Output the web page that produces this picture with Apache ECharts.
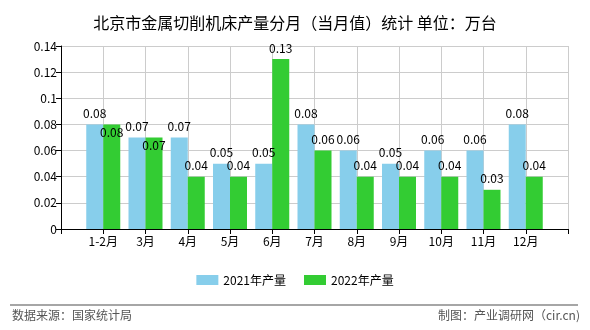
<!DOCTYPE html>
<html>
<head>
<meta charset="utf-8">
<script src="https://cdn.jsdelivr.net/npm/echarts@6/dist/echarts.min.js"></script>
<style>html,body{margin:0;padding:0;background:#fff;}#c{width:590px;height:330px;}</style>
</head>
<body>
<div id="c"></div>
<script>
var categories = ['1-2月','3月','4月','5月','6月','7月','8月','9月','10月','11月','12月'];
var values2021 = [0.08,0.07,0.07,0.05,0.05,0.08,0.06,0.05,0.06,0.06,0.08];
var values2022 = [0.08,0.07,0.04,0.04,0.13,0.06,0.04,0.04,0.04,0.03,0.04];
var yTicks = [0,0.02,0.04,0.06,0.08,0.1,0.12,0.14];
var seriesNames = ['2021年产量','2022年产量'];
var insideLabel2022 = ['1-2月','3月'];

var font = 'Noto Sans CJK SC';
var cats = [''].concat(categories).concat(['']);
function pad(arr, isInside) {
  var out = [null];
  arr.forEach(function (v, i) {
    if (isInside && insideLabel2022.indexOf(categories[i]) >= 0) {
      out.push({value: v, label: {position: 'insideTop', distance: 2}});
    } else out.push(v);
  });
  out.push(null);
  return out;
}
var chart = echarts.init(document.getElementById('c'), null, {renderer: 'canvas'});
chart.setOption({
  animation: false,
  backgroundColor: '#fff',
  textStyle: {fontFamily: font},
  title: {
    text: '北京市金属切削机床产量分月（当月值）统计 单位：万台',
    left: 'center', top: 10,
    textStyle: {fontSize: 16, fontWeight: 'normal', color: '#000', fontFamily: font}
  },
  grid: {left: 61, right: 22, top: 46, bottom: 101, containLabel: false},
  legend: {
    data: seriesNames, top: 269, left: 'center', icon: 'rect',
    itemWidth: 22, itemHeight: 10, itemGap: 18,
    textStyle: {fontSize: 12, color: '#000', fontFamily: font}
  },
  xAxis: {
    type: 'category', data: cats, boundaryGap: false,
    axisLine: {lineStyle: {color: '#000'}},
    axisTick: {show: true, length: 5, lineStyle: {color: '#000'}},
    axisLabel: {color: '#000', fontSize: 12, margin: 6, interval: 0},
    splitLine: {show: true, lineStyle: {color: '#ccc'}}
  },
  yAxis: {
    type: 'value', min: 0, max: 0.14, interval: 0.02,
    axisLine: {show: true, lineStyle: {color: '#000'}},
    axisTick: {show: true, length: 5, lineStyle: {color: '#000'}},
    axisLabel: {color: '#000', fontSize: 12, margin: 4,
      formatter: function (v) { var t = yTicks.filter(function (x) { return Math.abs(x - v) < 1e-9; }); return t.length ? String(t[0]) : ''; }},
    splitLine: {show: true, lineStyle: {color: '#ccc'}}
  },
  series: [
    {name: seriesNames[0], type: 'bar', data: pad(values2021, false), barWidth: 17, barGap: '0%',
      itemStyle: {color: '#87CEEB'},
      label: {show: true, position: 'top', distance: 5, color: '#000', fontSize: 12, fontFamily: font}},
    {name: seriesNames[1], type: 'bar', data: pad(values2022, true), barWidth: 17, barGap: '0%',
      itemStyle: {color: '#33CC33'},
      label: {show: true, position: 'top', distance: 5, color: '#000', fontSize: 12, fontFamily: font}}
  ],
  graphic: [
    {type: 'line', shape: {x1: 10, y1: 305, x2: 578, y2: 305}, style: {stroke: '#888', lineWidth: 1.5}},
    {type: 'text', left: 12, top: 309, style: {text: '数据来源：国家统计局', fill: '#555', fontSize: 12, fontFamily: font}},
    {type: 'text', right: 10, top: 309, style: {text: '制图：产业调研网（cir.cn)', fill: '#555', fontSize: 12, fontFamily: font}}
  ]
});
</script>
</body>
</html>
